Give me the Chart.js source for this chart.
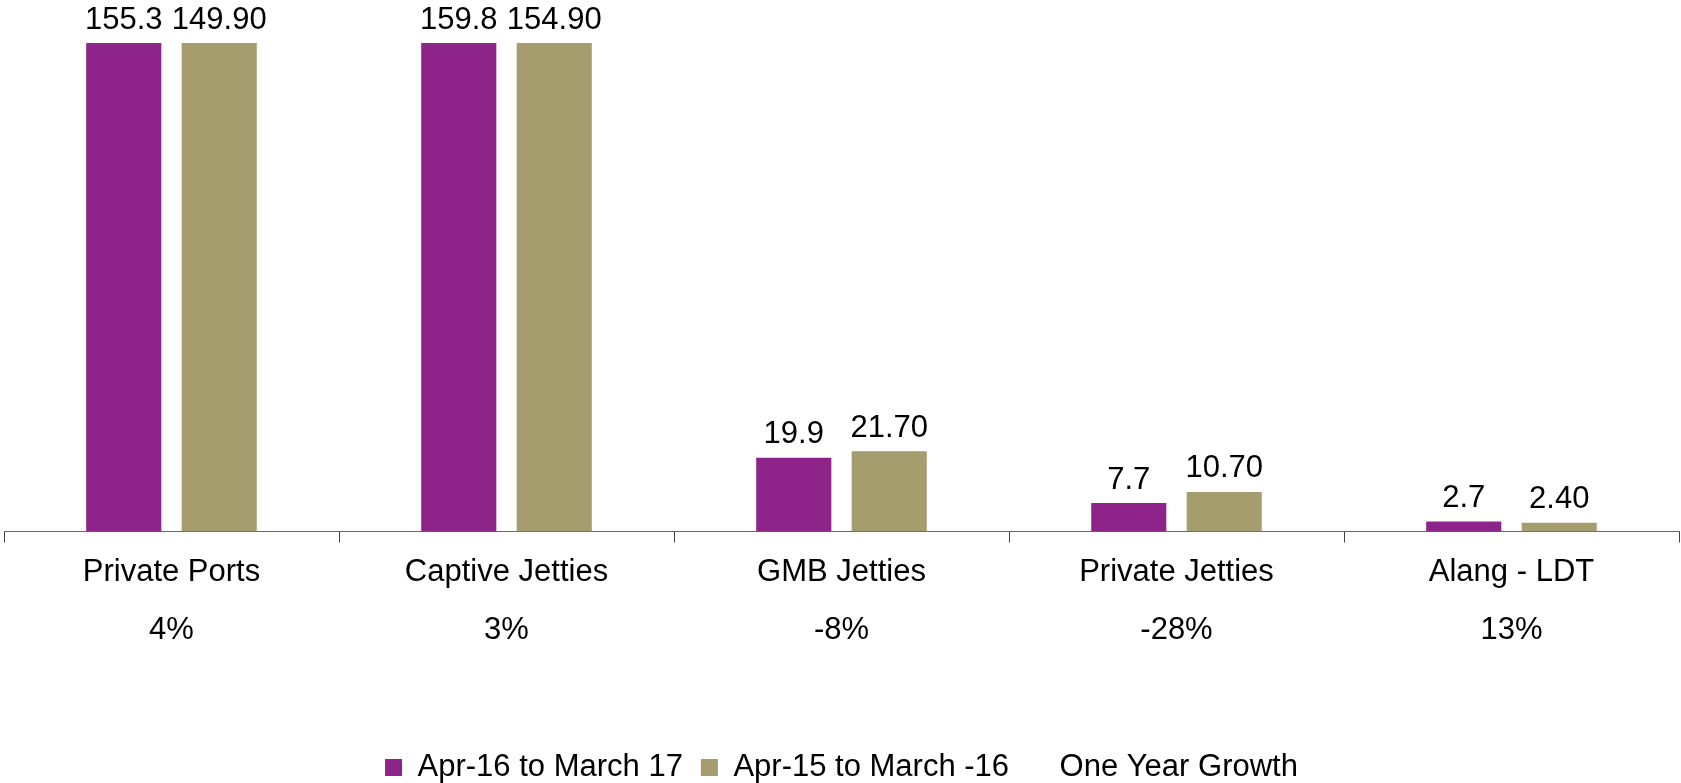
<!DOCTYPE html>
<html lang="en">
<head>
    <meta charset="UTF-8">
    <title>Cargo Traffic</title>
    <script src="https://cdn.jsdelivr.net/npm/chart.js"></script>
    <style>
        body { margin: 0; background: #fff; }
        .chart-container { width: 1681px; height: 783px; position: relative; }
    </style>
</head>
<body>
    <div class="chart-container">
        <canvas id="barChart"></canvas>
    </div>

    <script>
        // Data
        const categories = ['Private Ports', 'Captive Jetties', 'GMB Jetties', 'Private Jetties', 'Alang - LDT'];
        const growthLabels = ['4%', '3%', '-8%', '-28%', '13%'];
        const growthValues = [4, 3, -8, -28, 13];
        const apr16Values = [155.3, 159.8, 19.9, 7.7, 2.7];
        const apr15Values = [149.9, 154.9, 21.7, 10.7, 2.4];
        const seriesNames = ['Apr-16 to March 17', 'Apr-15 to March -16', 'One Year Growth'];

        const FONT = "'Liberation Sans', Arial, sans-serif";
        const SIZE = 31;

        // value labels above bars (bars taller than the axis get theirs at the top edge)
        const barLabels = {
            id: 'barLabels',
            afterDatasetsDraw(chart) {
                const ctx = chart.ctx;
                ctx.save();
                ctx.font = SIZE + 'px ' + FONT;
                ctx.fillStyle = '#000';
                ctx.textAlign = 'center';
                ctx.textBaseline = 'middle';
                [0, 1].forEach(i => {
                    const meta = chart.getDatasetMeta(i);
                    const decimals = i === 0 ? 1 : 2;
                    meta.data.forEach((bar, j) => {
                        const top = Math.max(bar.y, chart.chartArea.top);
                        const v = chart.data.datasets[i].data[j];
                        ctx.fillText(v.toFixed(decimals), bar.x, top - 23);
                    });
                });
                ctx.restore();
            }
        };

        const ctxBar = document.getElementById('barChart').getContext('2d');
        const barChart = new Chart(ctxBar, {
            type: 'bar',
            data: {
                labels: categories.map((c, i) => [c, '', growthLabels[i]]),
                datasets: [{
                    label: seriesNames[0],
                    data: apr16Values,
                    backgroundColor: '#8E2489',
                    categoryPercentage: 0.57,
                    barPercentage: 0.787
                }, {
                    label: seriesNames[1],
                    data: apr15Values,
                    backgroundColor: '#A69D6E',
                    categoryPercentage: 0.57,
                    barPercentage: 0.787
                }, {
                    type: 'line',
                    label: seriesNames[2],
                    data: growthValues,
                    yAxisID: 'yGrowth',
                    showLine: false,
                    pointRadius: 0,
                    backgroundColor: 'rgba(0,0,0,0)',
                    borderColor: 'rgba(0,0,0,0)',
                    borderWidth: 0
                }]
            },
            options: {
                responsive: true,
                maintainAspectRatio: false,
                animation: false,
                layout: {
                    padding: { left: 4, right: 2, top: 43, bottom: -10 }
                },
                plugins: {
                    tooltip: { enabled: false },
                    legend: {
                        position: 'bottom',
                        labels: {
                            font: { family: FONT, size: 31 },
                            color: '#000',
                            boxWidth: 17,
                            boxHeight: 17,
                            padding: 18
                        }
                    }
                },
                scales: {
                    x: {
                        afterFit: s => { s.height += 73; },
                        grid: {
                            display: true,
                            drawOnChartArea: false,
                            drawTicks: true,
                            tickLength: 11,
                            color: '#404040'
                        },
                        border: { display: true, color: '#666' },
                        ticks: {
                            font: { family: FONT, size: SIZE, lineHeight: 0.93 },
                            color: '#000',
                            padding: 16,
                            maxRotation: 0
                        }
                    },
                    y: {
                        display: false,
                        min: 0,
                        max: 132
                    },
                    yGrowth: {
                        display: false
                    }
                }
            },
            plugins: [barLabels]
        });
    </script>
</body>
</html>
